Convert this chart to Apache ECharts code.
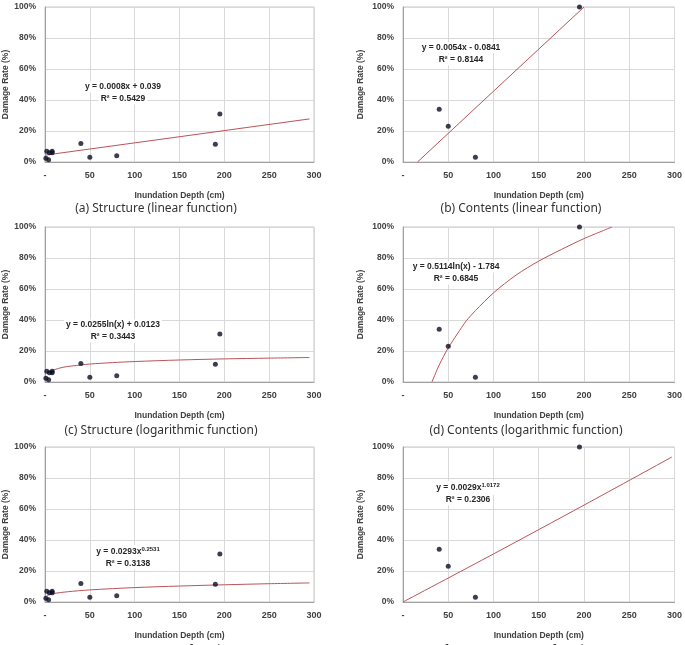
<!DOCTYPE html>
<html>
<head>
<meta charset="utf-8">
<title>Damage rate vs inundation depth</title>
<script src="https://cdn.jsdelivr.net/npm/echarts@6/dist/echarts.min.js"></script>
<style>
html,body{margin:0;padding:0;background:#fff;}
#main{width:685px;height:645px;}
</style>
</head>
<body>
<div id="main"></div>
<script>
//観測点（構造）
var structDepth=[1,2,4,5,8,8,40,50,80,190,195];
var structRate=[2.5,7,1.5,6,7,6,12,3,4,11.5,31];
//観測点（家財）
var contDepth=[40,50,80,195];
var contRate=[34,23,3,100];
//軸目盛り
var depthTicks=[0,50,100,150,200,250,300];
var rateTicks=[0,20,40,60,80,100];
//グラフから読んだ近似曲線の点 [depth, rate%]
var trendA=[[1,4.5],[295,27.8]];
var trendB=[[16,0],[200,100]];
var trendC=[[4,6],[10,7.8],[20,9.5],[40,11],[50,11.6],[75,12.5],[100,13.2],[150,14.2],[200,14.9],[250,15.4],[295,15.8]];
var trendD=[[32,0],[40,11],[50,22],[60,31],[70,39.5],[80,46],[100,57.5],[125,69],[150,78],[175,85.5],[200,92.5],[231,100]];
var trendE=[[2,4.2],[10,5.5],[25,6.6],[50,7.8],[100,9.3],[150,10.3],[200,11.1],[250,11.8],[295,12.3]];
var trendF=[[0,0],[100,31],[200,62.5],[297,93.5]];
//式とキャプション
var equations=[
	{y:'y = 0.0008x + 0.039',r:'R² = 0.5429'},
	{y:'y = 0.0054x - 0.0841',r:'R² = 0.8144'},
	{y:'y = 0.0255ln(x) + 0.0123',r:'R² = 0.3443'},
	{y:'y = 0.5114ln(x) - 1.784',r:'R² = 0.6845'},
	{y:'y = 0.0293x{s|0.2531}',r:'R² = 0.3138'},
	{y:'y = 0.0029x{s|1.0172}',r:'R² = 0.2306'}
];
var captions=[
	'(a) Structure (linear function)',
	'(b) Contents (linear function)',
	'(c) Structure (logarithmic function)',
	'(d) Contents (logarithmic function)',
	'(e) Structure (power function)',
	'(f) Contents (power function)'
];

var labelFont='Liberation Sans';
var gridBox=[
	{left:42,top:7},{left:403,top:7},
	{left:42,top:227},{left:403,top:227},
	{left:42,top:447},{left:403,top:447}
];
//式の位置
var eqPos=[[123,87],[461,48],[113,325],[456,267],[128,552],[468,488]];
var capPos=[[156,209],[521,209],[161,431],[526,431],[156,651],[521,651]];

function pairs(xs,ys){
	var out=[];
	for(var i=0;i<xs.length;i++){
		out.push([xs[i],ys[i]]);
	}
	return out;
}

var grids=[],xAxes=[],yAxes=[],series=[],graphics=[];
var trends=[trendA,trendB,trendC,trendD,trendE,trendF];
for(var i=0;i<6;i++){
	grids.push({left:gridBox[i].left,top:gridBox[i].top,width:272,height:155,
		show:true,borderColor:'#c4c4c4',borderWidth:1});
	xAxes.push({
		type:'value',gridIndex:i,min:depthTicks[0],max:depthTicks[depthTicks.length-1],interval:50,
		name:'Inundation Depth (cm)',nameLocation:'middle',nameGap:29,
		nameTextStyle:{fontFamily:labelFont,fontWeight:'bold',fontSize:8.5,color:'#404040'},
		axisLine:{show:true,lineStyle:{color:'#a0a0a0',width:1}},
		axisTick:{show:false},
		axisLabel:{margin:9,fontFamily:labelFont,fontWeight:'bold',fontSize:9,color:'#404040',
			formatter:function(v){return v===0?'-':String(v);}},
		splitLine:{show:true,lineStyle:{color:'#d9d9d9',width:1}}
	});
	yAxes.push({
		type:'value',gridIndex:i,min:rateTicks[0],max:rateTicks[rateTicks.length-1],interval:20,
		name:'Damage Rate (%)',nameLocation:'middle',nameGap:(i%2===0?35:38),
		nameTextStyle:{fontFamily:labelFont,fontWeight:'bold',fontSize:8.5,color:'#404040'},
		axisLine:{show:true,lineStyle:{color:'#a0a0a0',width:1}},
		axisTick:{show:false},
		axisLabel:{margin:9,fontFamily:labelFont,fontWeight:'bold',fontSize:8.5,color:'#404040',
			formatter:'{value}%'},
		splitLine:{show:true,lineStyle:{color:'#d9d9d9',width:1}}
	});
	var isStruct=(i%2===0);
	series.push({
		type:'line',xAxisIndex:i,yAxisIndex:i,data:trends[i],
		smooth:trends[i].length>2?0.3:false,showSymbol:false,silent:true,
		lineStyle:{color:'#b9545a',width:1},z:2
	});
	series.push({
		type:'scatter',xAxisIndex:i,yAxisIndex:i,
		data:isStruct?pairs(structDepth,structRate):pairs(contDepth,contRate),
		symbolSize:5,itemStyle:{color:'#0c0c24'},z:3
	});
	graphics.push({
		type:'text',x:eqPos[i][0],y:eqPos[i][1],z:10,
		style:{text:equations[i].y,textAlign:'center',textVerticalAlign:'middle',
			font:'bold 8.5px "Liberation Sans"',fill:'#262626',
			backgroundColor:'#ffffff',padding:[1,2],
			rich:{s:{fontSize:6,fontWeight:'bold',fontFamily:labelFont,fill:'#262626',padding:[0,0,6,0]}}}
	});
	graphics.push({
		type:'text',x:eqPos[i][0],y:eqPos[i][1]+12,z:10,
		style:{text:equations[i].r,textAlign:'center',textVerticalAlign:'middle',
			font:'bold 8.5px "Liberation Sans"',fill:'#262626',
			backgroundColor:'#ffffff',padding:[1,2]}
	});
	graphics.push({
		type:'text',x:capPos[i][0],y:capPos[i][1],
		style:{text:captions[i],textAlign:'center',textVerticalAlign:'middle',
			font:'12px "Liberation Sans Narrow", "Noto Sans", sans-serif',fill:'#333333'}
	});
}

var myChart=echarts.init(document.getElementById('main'));
myChart.setOption({
	animation:false,
	backgroundColor:'#ffffff',
	grid:grids,
	xAxis:xAxes,
	yAxis:yAxes,
	series:series,
	graphic:graphics
});
</script>
</body>
</html>
